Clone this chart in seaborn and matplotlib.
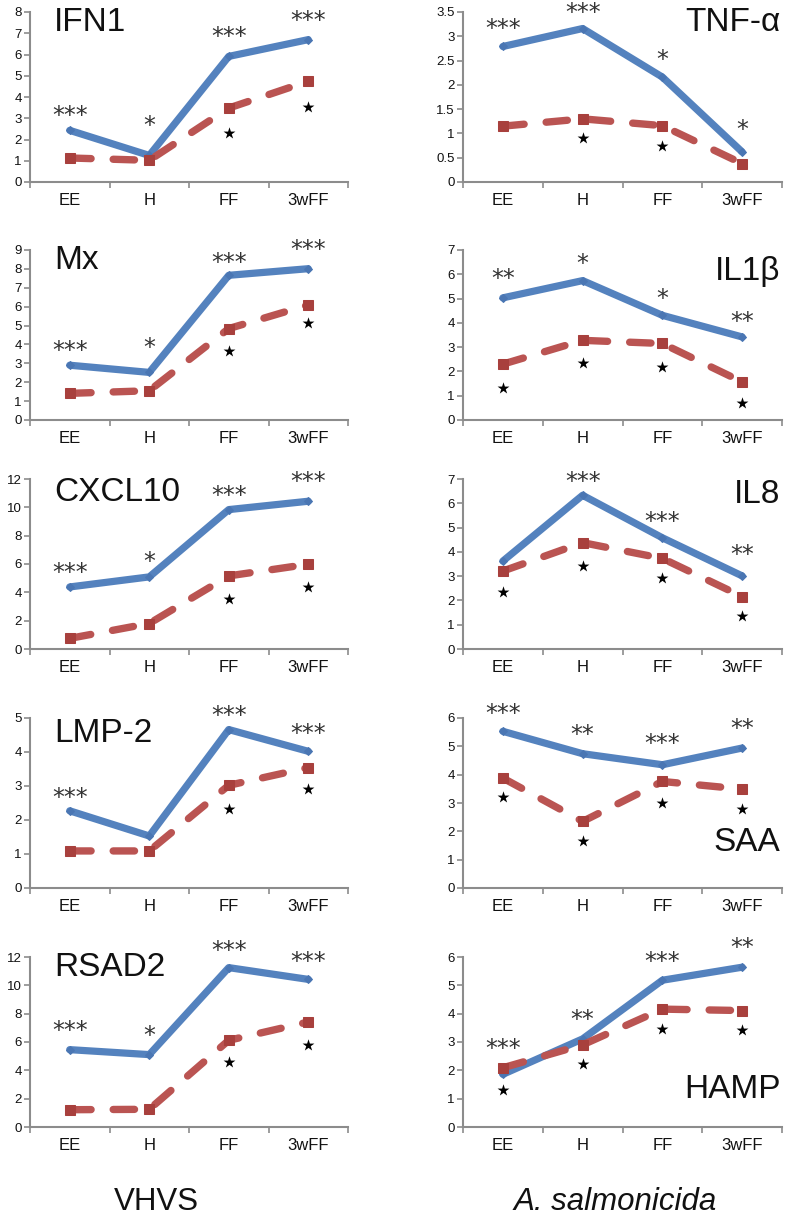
import numpy as np
import pandas as pd
import matplotlib
matplotlib.use("Agg")
import matplotlib.pyplot as plt
from matplotlib.ticker import FuncFormatter, FixedLocator
import seaborn as sns

# ---------------- data ----------------
categories = ["EE", "H", "FF", "3wFF"]

# VHVS column
ifn1_solid = [2.43, 1.25, 5.91, 6.70]
ifn1_dashed = [1.13, 1.02, 3.48, 4.74]
ifn1_sig = ["***", "*", "***", "***"]
ifn1_sig_y = [3.45, 2.98, 7.14, 7.92]
ifn1_star_y = [None, None, 2.32, 3.53]

mx_solid = [2.90, 2.52, 7.66, 8.01]
mx_dashed = [1.41, 1.55, 4.84, 6.09]
mx_sig = ["***", "*", "***", "***"]
mx_sig_y = [4.01, 4.19, 8.71, 9.38]
mx_star_y = [None, None, 3.66, 5.12]

cxcl10_solid = [4.38, 5.09, 9.84, 10.43]
cxcl10_dashed = [0.75, 1.80, 5.16, 5.98]
cxcl10_sig = ["***", "*", "***", "***"]
cxcl10_sig_y = [5.86, 6.68, 11.32, 12.30]
cxcl10_star_y = [None, None, 3.56, 4.41]

lmp2_solid = [2.27, 1.53, 4.66, 4.02]
lmp2_dashed = [1.09, 1.09, 3.02, 3.54]
lmp2_sig = ["***", "", "***", "***"]
lmp2_sig_y = [2.85, None, 5.26, 4.73]
lmp2_star_y = [None, None, 2.33, 2.92]

rsad2_solid = [5.46, 5.11, 11.25, 10.42]
rsad2_dashed = [1.22, 1.25, 6.12, 7.41]
rsad2_sig = ["***", "*", "***", "***"]
rsad2_sig_y = [7.25, 6.90, 12.94, 12.12]
rsad2_star_y = [None, None, 4.59, 5.76]

# A. salmonicida column
tnfa_solid = [2.79, 3.16, 2.16, 0.62]
tnfa_dashed = [1.15, 1.30, 1.16, 0.38]
tnfa_sig = ["***", "***", "*", "*"]
tnfa_sig_y = [3.29, 3.62, 2.65, 1.22]
tnfa_star_y = [None, 0.90, 0.74, None]

il1b_solid = [5.03, 5.74, 4.31, 3.42]
il1b_dashed = [2.30, 3.28, 3.15, 1.57]
il1b_sig = ["**", "*", "*", "**"]
il1b_sig_y = [6.09, 6.70, 5.27, 4.31]
il1b_star_y = [1.30, 2.35, 2.19, 0.71]

il8_solid = [3.62, 6.33, 4.58, 3.01]
il8_dashed = [3.21, 4.38, 3.73, 2.16]
il8_sig = ["", "***", "***", "**"]
il8_sig_y = [None, 7.18, 5.54, 4.17]
il8_star_y = [2.35, 3.42, 2.91, 1.37]

saa_solid = [5.53, 4.74, 4.35, 4.94]
saa_dashed = [3.88, 2.35, 3.76, 3.49]
saa_sig = ["***", "**", "***", "**"]
saa_sig_y = [6.41, 5.65, 5.32, 5.85]
saa_star_y = [3.20, 1.65, 3.00, 2.79]

hamp_solid = [1.86, 3.11, 5.18, 5.64]
hamp_dashed = [2.09, 2.90, 4.16, 4.11]
hamp_sig = ["***", "**", "***", "**"]
hamp_sig_y = [3.01, 4.02, 6.06, 6.56]
hamp_star_y = [1.30, 2.22, 3.46, 3.43]

column_titles = ["VHVS", "A. salmonicida"]

# ---------------- style ----------------
sns.set_style("white")
plt.rcParams["font.family"] = ["Liberation Sans", "DejaVu Sans"]

BLUE = "#5482BE"
BLUE_MK = "#4A76B3"
RED = "#BA5452"
RED_MK = "#A8403D"
SPINE = "#8C8C8C"

W, H = 787, 1221
fig = plt.figure(figsize=(W / 100, H / 100), dpi=100)

row_tops = [12, 250, 479, 718, 957]
ax_h = 170
col_x = [(30, 318), (463, 319)]

# (name, col, row, ymax, ystep, solid, dashed, sig, sig_y, star_y, title_x, title_y, title_ha)
panels = [
    ("IFN1", 0, 0, 8, 1, ifn1_solid, ifn1_dashed, ifn1_sig, ifn1_sig_y, ifn1_star_y, 0.075, 0.94, "left"),
    ("Mx", 0, 1, 9, 1, mx_solid, mx_dashed, mx_sig, mx_sig_y, mx_star_y, 0.075, 0.94, "left"),
    ("CXCL10", 0, 2, 12, 2, cxcl10_solid, cxcl10_dashed, cxcl10_sig, cxcl10_sig_y, cxcl10_star_y, 0.075, 0.92, "left"),
    ("LMP-2", 0, 3, 5, 1, lmp2_solid, lmp2_dashed, lmp2_sig, lmp2_sig_y, lmp2_star_y, 0.075, 0.91, "left"),
    ("RSAD2", 0, 4, 12, 2, rsad2_solid, rsad2_dashed, rsad2_sig, rsad2_sig_y, rsad2_star_y, 0.075, 0.94, "left"),
    ("TNF-α", 1, 0, 3.5, 0.5, tnfa_solid, tnfa_dashed, tnfa_sig, tnfa_sig_y, tnfa_star_y, 0.995, 0.94, "right"),
    ("IL1β", 1, 1, 7, 1, il1b_solid, il1b_dashed, il1b_sig, il1b_sig_y, il1b_star_y, 0.995, 0.876, "right"),
    ("IL8", 1, 2, 7, 1, il8_solid, il8_dashed, il8_sig, il8_sig_y, il8_star_y, 0.995, 0.91, "right"),
    ("SAA", 1, 3, 6, 1, saa_solid, saa_dashed, saa_sig, saa_sig_y, saa_star_y, 0.995, 0.27, "right"),
    ("HAMP", 1, 4, 6, 1, hamp_solid, hamp_dashed, hamp_sig, hamp_sig_y, hamp_star_y, 0.995, 0.22, "right"),
]

fmt = FuncFormatter(lambda v, p: ("%g" % v))
pos = np.arange(len(categories))
AST = 17

for (name, col, row, ymax, ystep, solid, dashed, sig, sig_y, star_y,
     tx, ty, tha) in panels:
    x0, w = col_x[col]
    top = row_tops[row]
    ax = fig.add_axes([x0 / W, 1 - (top + ax_h) / H, w / W, ax_h / H])

    df = pd.DataFrame({"pos": pos, "solid": solid, "dashed": dashed})
    sns.lineplot(data=df, x="pos", y="solid", ax=ax, color=BLUE, linewidth=5.2,
                 marker="D", markersize=4.5, markerfacecolor=BLUE_MK,
                 markeredgecolor=BLUE_MK, solid_capstyle="round",
                 solid_joinstyle="round", errorbar=None, zorder=3)
    sns.lineplot(data=df, x="pos", y="dashed", ax=ax, color=RED, linewidth=5.3,
                 linestyle=(0, (2.9, 3.0)), dash_capstyle="round",
                 dash_joinstyle="round", marker="s", markersize=7,
                 markerfacecolor=RED_MK, markeredgecolor=RED_MK,
                 errorbar=None, zorder=4)

    # significance asterisks
    for i, (s, yv) in enumerate(zip(sig, sig_y)):
        if s and yv is not None:
            ax.annotate(s, xy=(pos[i], yv), xytext=(0, -0.6 * AST),
                        textcoords="offset points", ha="center", va="baseline",
                        fontsize=AST, color="#333333", family="DejaVu Sans",
                        annotation_clip=False, zorder=5)
    # filled stars
    sx = [pos[i] for i, v in enumerate(star_y) if v is not None]
    sy = [v for v in star_y if v is not None]
    if sx:
        ax.scatter(sx, sy, marker="*", s=80, color="black", zorder=6,
                   linewidths=0, clip_on=False)

    ax.text(tx, ty, name, transform=ax.transAxes, ha=tha, va="center",
            fontsize=24, color="#111111")

    ax.set_xlim(-0.5, len(categories) - 0.5)
    ax.set_ylim(0, ymax)
    ax.set_xticks(pos)
    ax.set_xticklabels(categories)
    ax.xaxis.set_minor_locator(FixedLocator(np.arange(len(categories) + 1) - 0.5))
    ax.set_yticks(np.arange(0, ymax + ystep / 2, ystep))
    ax.yaxis.set_major_formatter(fmt)
    ax.tick_params(axis="x", which="major", length=0, pad=8, labelsize=12,
                   labelcolor="#111111")
    ax.tick_params(axis="x", which="minor", length=4, width=1.2, color=SPINE,
                   direction="out", bottom=True)
    ax.tick_params(axis="y", which="major", length=4, width=1.2, color=SPINE,
                   direction="out", left=True, pad=2, labelsize=9.5,
                   labelcolor="#111111")
    ax.set_xlabel("")
    ax.set_ylabel("")
    for sp in ["top", "right"]:
        ax.spines[sp].set_visible(False)
    for sp in ["left", "bottom"]:
        ax.spines[sp].set_color(SPINE)
        ax.spines[sp].set_linewidth(1.5)
    ax.patch.set_alpha(0)

fig.text(156 / W, 1 - 1202 / H, column_titles[0], ha="center", va="center",
         fontsize=22.5, color="#111111")
fig.text(615 / W, 1 - 1202 / H, column_titles[1], ha="center", va="center",
         fontsize=22.5, style="italic", color="#111111")

fig.savefig("out.png", dpi=100, facecolor="white")
